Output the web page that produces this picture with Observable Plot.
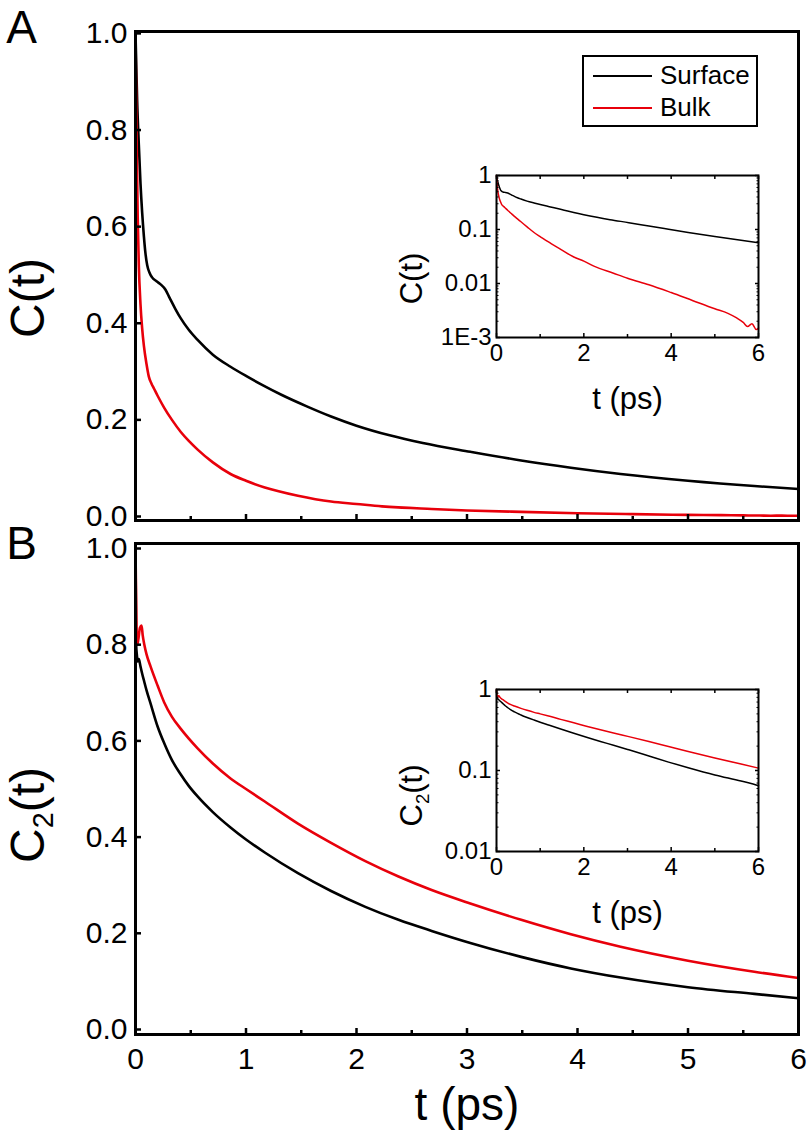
<!DOCTYPE html>
<html>
<head>
<meta charset="utf-8">
<script src="https://cdn.jsdelivr.net/npm/d3@7"></script>
<script src="https://cdn.jsdelivr.net/npm/@observablehq/plot@0.6"></script>
<style>
  body { margin: 0; background: #fff; }
  #root { position: relative; width: 807px; height: 1138px; font-family: "Liberation Sans", Arial, Helvetica, sans-serif; }
  #root svg { position: absolute; overflow: visible; }
  .legend { position: absolute; border: 2px solid #000; box-sizing: border-box; background: #fff; }
  .legend .ln { position: absolute; height: 0; border-top: 2.5px solid; }
  .legend .lb { position: absolute; font-size: 26px; line-height: 26px; color: #000; }
</style>
</head>
<body>
<div id="root"></div>
<script>
const FONT = '"Liberation Sans", Arial, Helvetica, sans-serif';
const RED = "#e8000b";

// ---------- Panel A : C(t) ----------
const tSurfaceA = [0, 0.015, 0.03, 0.045, 0.06, 0.076, 0.09, 0.106, 0.13, 0.15, 0.19, 0.23, 0.27, 0.31, 0.36, 0.41, 0.48, 0.56, 0.7, 0.86, 1.0, 1.15, 1.32, 1.55, 1.77, 2.0, 2.3, 2.6, 3.03, 3.49, 3.94, 4.39, 5.0, 5.6, 6.0];
const cSurfaceA = [1.0, 0.86, 0.77, 0.69, 0.63, 0.58, 0.545, 0.52, 0.503, 0.495, 0.487, 0.48, 0.47, 0.452, 0.43, 0.41, 0.387, 0.366, 0.335, 0.31, 0.291, 0.272, 0.252, 0.228, 0.207, 0.188, 0.168, 0.152, 0.134, 0.116, 0.101, 0.088, 0.074, 0.063, 0.057];
const tBulkA = [0, 0.01, 0.02, 0.03, 0.045, 0.06, 0.076, 0.1, 0.12, 0.145, 0.167, 0.2, 0.26, 0.33, 0.41, 0.48, 0.56, 0.7, 0.86, 1.0, 1.17, 1.47, 1.77, 2.0, 2.23, 2.68, 3.0, 3.49, 4.0, 4.5, 5.0, 5.3, 5.5, 5.65, 5.75, 5.85, 5.95, 6.0];
const cBulkA = [1.0, 0.78, 0.62, 0.52, 0.44, 0.39, 0.353, 0.315, 0.29, 0.275, 0.265, 0.25, 0.225, 0.2, 0.175, 0.157, 0.139, 0.112, 0.088, 0.074, 0.06, 0.043, 0.031, 0.026, 0.021, 0.0155, 0.0125, 0.0095, 0.0068, 0.0048, 0.0034, 0.0028, 0.0023, 0.0019, 0.0016, 0.0018, 0.0014, 0.0015];

// ---------- Panel B : C2(t) ----------
const tSurfaceB = [0, 0.006, 0.012, 0.02, 0.03, 0.045, 0.06, 0.076, 0.1, 0.136, 0.2, 0.26, 0.33, 0.41, 0.48, 0.56, 0.7, 0.86, 1.0, 1.17, 1.47, 1.77, 2.08, 2.38, 2.68, 3.03, 3.49, 3.94, 4.39, 5.0, 5.6, 6.0];
const cSurfaceB = [1.0, 0.80, 0.78, 0.765, 0.77, 0.755, 0.74, 0.726, 0.705, 0.678, 0.63, 0.595, 0.56, 0.53, 0.507, 0.485, 0.452, 0.42, 0.395, 0.368, 0.325, 0.288, 0.255, 0.228, 0.205, 0.18, 0.151, 0.127, 0.108, 0.088, 0.074, 0.065];
const tBulkB = [0, 0.008, 0.015, 0.025, 0.04, 0.055, 0.065, 0.08, 0.1, 0.136, 0.2, 0.26, 0.33, 0.41, 0.56, 0.7, 0.86, 1.0, 1.17, 1.47, 1.77, 2.08, 2.38, 2.68, 3.03, 3.49, 3.94, 4.39, 5.0, 5.6, 6.0];
const cBulkB = [1.0, 0.85, 0.80, 0.81, 0.835, 0.84, 0.82, 0.80, 0.78, 0.755, 0.715, 0.68, 0.65, 0.625, 0.585, 0.553, 0.522, 0.5, 0.474, 0.428, 0.388, 0.35, 0.318, 0.29, 0.262, 0.228, 0.198, 0.172, 0.143, 0.12, 0.107];

// ---------- ticks & labels ----------
const mainYTicks = [0, 0.2, 0.4, 0.6, 0.8, 1.0];
const mainXTicks = [0, 1, 2, 3, 4, 5, 6];
const mainXMinorTicks = [0.5, 1.5, 2.5, 3.5, 4.5, 5.5];
const insetXTicks = [0, 2, 4, 6];
const insetXMinorTicks = [1, 3, 5];
const insetAYTicks = [1, 0.1, 0.01, 0.001];
const insetAYLabels = ["1", "0.1", "0.01", "1E-3"];
const insetBYTicks = [1, 0.1, 0.01];
const insetBYLabels = ["1", "0.1", "0.01"];
const legendLabels = ["Surface", "Bulk"];
const legendColors = ["#000000", RED];
const xTitle = "t (ps)";

const rows = (ts, cs) => ts.map((t, i) => ({t, c: cs[i]}));
const root = document.getElementById("root");

function place(svg, left, top) {
  svg.style.left = left + "px";
  svg.style.top = top + "px";
  root.appendChild(svg);
  return svg;
}

// inward-pointing tick marks (no labels)
function inTicks(values, anchor, size, sw) {
  const o = {anchor, tickSize: size, strokeWidth: sw, tickFormat: () => "", label: null};
  if (anchor === "left") o.dx = size;
  if (anchor === "right") o.dx = -size;
  if (anchor === "bottom") o.dy = -size;
  if (anchor === "top") o.dy = size;
  return (anchor === "left" || anchor === "right") ? Plot.axisY(values, o) : Plot.axisX(values, o);
}

function mainPanel({top, height, marginTop, marginBottom, yDomain, surface, bulk, letter, letterDy, ylab, ylabDy, showX}) {
  const svg = Plot.plot({
    width: 807, height, marginLeft: 135, marginRight: 9, marginTop, marginBottom,
    style: {background: "transparent", fontFamily: FONT, overflow: "visible", color: "#000"},
    x: {domain: [0, 6]},
    y: {domain: yDomain},
    marks: [
      Plot.line(surface, {x: "t", y: "c", stroke: "#000", strokeWidth: 2.6, curve: "monotone-x"}),
      Plot.line(bulk, {x: "t", y: "c", stroke: RED, strokeWidth: 2.6, curve: "monotone-x"}),
      inTicks(mainYTicks, "left", 6, 2.5),
      inTicks(mainXTicks, "bottom", 6, 2.5),
      inTicks(mainXMinorTicks, "bottom", 4, 2.5),
      Plot.axisY(mainYTicks, {tickSize: 0, tickPadding: 8, fontSize: 30, tickFormat: d3.format(".1f"), label: null}),
      ...(showX ? [Plot.axisX(mainXTicks, {tickSize: 0, tickPadding: 13, fontSize: 30, tickFormat: d => String(d), label: null})] : []),
      Plot.frame({strokeWidth: 3}),
      Plot.text([letter], {text: d => d, frameAnchor: "top-left", dx: -114, dy: letterDy, fontSize: 46, textAnchor: "middle", lineAnchor: "middle"}),
      Plot.text([ylab], {text: d => d, frameAnchor: "left", rotate: -90, dx: -107, dy: ylabDy, fontSize: 48, textAnchor: "middle", lineAnchor: "middle"}),
      ...(showX ? [Plot.text([xTitle], {text: d => d, frameAnchor: "bottom", dy: 71, fontSize: 46, textAnchor: "middle", lineAnchor: "middle"})] : [])
    ]
  });
  return place(svg, 0, top);
}

function minorLog(domain) {
  const out = [];
  for (let e = Math.round(Math.log10(domain[0])); e < 0; e++) {
    for (let m = 2; m <= 9; m++) out.push(m * Math.pow(10, e));
  }
  return out;
}

function insetPanel({left, top, yDomain, yTicks, yLabels, surface, bulk, ylab, ylabDy}) {
  const minor = minorLog(yDomain);
  const svg = Plot.plot({
    width: 400, height: 270, marginLeft: 116, marginRight: 22, marginTop: 25, marginBottom: 83,
    style: {background: "transparent", fontFamily: FONT, overflow: "visible", color: "#000"},
    x: {domain: [0, 6]},
    y: {type: "log", domain: yDomain},
    marks: [
      Plot.line(surface, {x: "t", y: "c", stroke: "#000", strokeWidth: 1.5, curve: "monotone-x"}),
      Plot.line(bulk, {x: "t", y: "c", stroke: RED, strokeWidth: 1.5, curve: "monotone-x"}),
      inTicks(yTicks, "left", 4, 1.5),
      inTicks(minor, "left", 2.5, 1),
      inTicks(yTicks, "right", 4, 1.5),
      inTicks(minor, "right", 2.5, 1),
      inTicks(insetXTicks, "bottom", 4, 1.5),
      inTicks(insetXMinorTicks, "bottom", 3, 1.5),
      inTicks(insetXTicks.concat(insetXMinorTicks), "top", 3, 1.5),
      Plot.axisY(yTicks, {tickSize: 0, tickPadding: 5, fontSize: 24, tickFormat: d => yLabels[yTicks.indexOf(d)], label: null}),
      Plot.axisX(insetXTicks, {tickSize: 0, tickPadding: 6, fontSize: 24, tickFormat: d => String(d), label: null}),
      Plot.frame({strokeWidth: 2}),
      Plot.text([ylab], {text: d => d, frameAnchor: "left", rotate: -90, dx: -84, dy: ylabDy, fontSize: 31, textAnchor: "middle", lineAnchor: "middle"}),
      Plot.text([xTitle], {text: d => d, frameAnchor: "bottom", dy: 62, fontSize: 31, textAnchor: "middle", lineAnchor: "middle"})
    ]
  });
  return place(svg, left, top);
}

const A = mainPanel({
  top: 0, height: 540, marginTop: 31, marginBottom: 20,
  yDomain: [-0.0083, 1.004],
  surface: rows(tSurfaceA, cSurfaceA), bulk: rows(tBulkA, cBulkA),
  letter: "A", letterDy: -3, ylab: "C(t)", ylabDy: 22, showX: false
});
const B = mainPanel({
  top: 530, height: 608, marginTop: 13, marginBottom: 104,
  yDomain: [-0.0104, 1.0104],
  surface: rows(tSurfaceB, cSurfaceB), bulk: rows(tBulkB, cBulkB),
  letter: "B", letterDy: 1, ylab: "C₂(t)", ylabDy: 26, showX: true
});
const IA = insetPanel({
  left: 380, top: 150, yDomain: [0.001, 1], yTicks: insetAYTicks, yLabels: insetAYLabels,
  surface: rows(tSurfaceA, cSurfaceA), bulk: rows(tBulkA, cBulkA), ylab: "C(t)", ylabDy: 22
});
const IB = insetPanel({
  left: 380, top: 664, yDomain: [0.01, 1], yTicks: insetBYTicks, yLabels: insetBYLabels,
  surface: rows(tSurfaceB, cSurfaceB), bulk: rows(tBulkB, cBulkB), ylab: "C₂(t)", ylabDy: 25
});

// real subscript for C2(t)
function subscriptify(svg) {
  const ns = "http://www.w3.org/2000/svg";
  svg.querySelectorAll("text").forEach(el => {
    if (el.textContent !== "C₂(t)") return;
    const fs = parseFloat(el.getAttribute("font-size") || el.parentNode.getAttribute("font-size") || 40);
    el.textContent = "";
    const a = document.createElementNS(ns, "tspan"); a.textContent = "C";
    const b = document.createElementNS(ns, "tspan"); b.textContent = "2";
    b.setAttribute("font-size", fs * 0.6); b.setAttribute("dy", fs * 0.2);
    const c = document.createElementNS(ns, "tspan"); c.textContent = "(t)";
    c.setAttribute("font-size", fs); c.setAttribute("dy", -fs * 0.2);
    el.append(a, b, c);
  });
}
subscriptify(B);
subscriptify(IB);

// legend
const legend = document.createElement("div");
legend.className = "legend";
Object.assign(legend.style, {left: "582px", top: "55px", width: "176px", height: "72px"});
legendLabels.forEach((lab, i) => {
  const ln = document.createElement("div");
  ln.className = "ln";
  Object.assign(ln.style, {left: "9px", top: (18 + i * 32) + "px", width: "59px", borderTopColor: legendColors[i]});
  const lb = document.createElement("div");
  lb.className = "lb";
  lb.textContent = lab;
  Object.assign(lb.style, {left: "76px", top: (5 + i * 32) + "px"});
  legend.append(ln, lb);
});
root.appendChild(legend);
</script>
</body>
</html>
